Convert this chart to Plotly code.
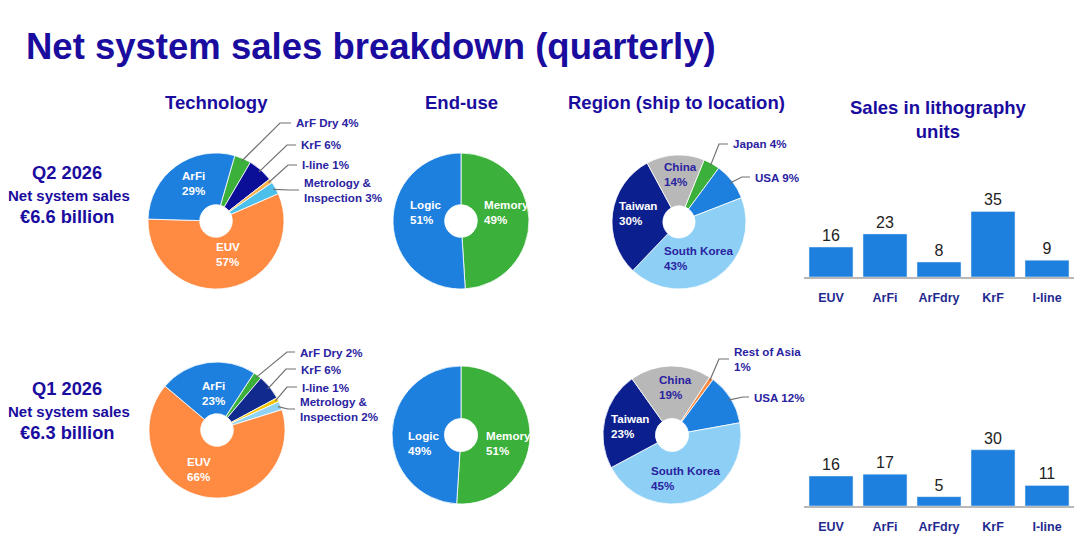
import math
import plotly.graph_objects as go

W, H = 1080, 556

# ---------------- data ----------------
tech_labels = ["ArF Dry", "KrF", "I-line", "Metrology &<br>Inspection", "EUV", "ArFi"]
tech_q2 = [4, 6, 1, 3, 57, 29]
tech_q1 = [2, 6, 1, 2, 66, 23]

enduse_labels = ["Memory", "Logic"]
enduse_q2 = [49, 51]
enduse_q1 = [51, 49]

region_labels_q2 = ["Japan", "USA", "South Korea", "Taiwan", "China"]
region_q2 = [4, 9, 43, 30, 14]
region_labels_q1 = ["Rest of Asia", "USA", "South Korea", "Taiwan", "China"]
region_q1 = [1, 12, 45, 23, 19]

units_categories = ["EUV", "ArFi", "ArFdry", "KrF", "I-line"]
units_q2 = [16, 23, 8, 35, 9]
units_q1 = [16, 17, 5, 30, 11]

quarters = ["Q2 2026", "Q1 2026"]
net_sales = ["€6.6 billion", "€6.3 billion"]

# ---------------- styles ----------------
FONT = "Liberation Sans, Arial, sans-serif"
NAVY = "#1a0c9e"
LBL = "#2a22a0"
WHITE = "#ffffff"
GREEN = "#3bb03b"
BLUE = "#1e80de"
ORANGE = "#ff8a42"

tech_colors_q2 = [GREEN, "#0b0e96", "#f7b24a", "#4cc0ea", ORANGE, BLUE]
tech_colors_q1 = [GREEN, "#102a8e", "#f5c400", "#8fd2f4", ORANGE, BLUE]
enduse_colors = [GREEN, BLUE]
region_colors_q2 = [GREEN, BLUE, "#8dcff5", "#0c1f8e", "#b8b8b8"]
region_colors_q1 = [ORANGE, BLUE, "#8dcff5", "#0c1f8e", "#b8b8b8"]


def px(x):
    return x / W


def py(y):
    return 1 - y / H


# layout of each pie: centre, radius, rotation, and label placements
# placement: ("in", left_x, centre_y, colour) or ("out", left_x, centre_y, elbow_x, sep)
pies = [
    dict(c=(216, 221), r=68, rot=16, labels=tech_labels, values=tech_q2, colors=tech_colors_q2,
         place=[("out", 294, 123, 280, " "), ("out", 299, 145, 287, " "), ("out", 300, 165, 288, " "),
                ("out", 302, 190, 290, " "), ("in", 214, 254, WHITE), ("in", 180, 183, WHITE)]),
    dict(c=(217, 430), r=68, rot=33, labels=tech_labels, values=tech_q1, colors=tech_colors_q1,
         place=[("out", 298, 352, 287, " "), ("out", 299, 369, 286, " "), ("out", 300, 387, 287, " "),
                ("out", 298, 409, 288, " "), ("in", 185, 469, WHITE), ("in", 200, 393, WHITE)]),
    dict(c=(461, 221), r=68, rot=0, labels=enduse_labels, values=enduse_q2, colors=enduse_colors,
         place=[("in", 482, 212, WHITE), ("in", 408, 212, WHITE)]),
    dict(c=(461, 435), r=69, rot=0, labels=enduse_labels, values=enduse_q1, colors=enduse_colors,
         place=[("in", 484, 443, WHITE), ("in", 406, 443, WHITE)]),
    dict(c=(679, 222), r=67, rot=22, labels=region_labels_q2, values=region_q2, colors=region_colors_q2,
         place=[("out", 731, 144, 719, " "), ("out", 753, 177, 742, " "), ("in", 662, 258, LBL),
                ("in", 617, 213, WHITE), ("in", 662, 174, LBL)]),
    dict(c=(672, 435), r=69, rot=33, labels=region_labels_q1, values=region_q1, colors=region_colors_q1,
         place=[("out", 732, 359, 719, "<br>"), ("out", 752, 397, 743, " "), ("in", 649, 478, LBL),
                ("in", 609, 426, WHITE), ("in", 657, 387, LBL)]),
]

fig = go.Figure()
annotations = []
shapes = []

for p in pies:
    cx, cy = p["c"]
    r = p["r"]
    fig.add_trace(go.Pie(
        labels=p["labels"], values=p["values"],
        marker=dict(colors=p["colors"], line=dict(color="white", width=0.8)),
        hole=0.24, sort=False, direction="clockwise", rotation=p["rot"],
        textinfo="none", hoverinfo="label+percent", showlegend=False,
        domain=dict(x=[px(cx - r), px(cx + r)], y=[py(cy + r), py(cy - r)]),
    ))
    total = sum(p["values"])
    cum = 0
    for lab, v, pl in zip(p["labels"], p["values"], p["place"]):
        mid = math.radians(p["rot"] + 360 * (cum + v / 2) / total)
        cum += v
        if pl[0] == "in":
            _, lx, ly, col = pl
            annotations.append(dict(
                x=px(lx), y=py(ly), xref="paper", yref="paper", xanchor="left", yanchor="middle",
                align="left", showarrow=False, text=f"{lab}<br>{v}%",
                font=dict(family=FONT, size=11.6, color=col, weight="bold")))
        else:
            _, lx, ly, ex, sep = pl
            ax_ = cx + r * 0.96 * math.sin(mid)
            ay_ = cy - r * 0.96 * math.cos(mid)
            shapes.append(dict(
                type="path", xref="paper", yref="paper",
                path=f"M {px(ax_)} {py(ay_)} L {px(ex)} {py(ly)} L {px(lx - 3)} {py(ly)}",
                line=dict(color="#707070", width=1.2)))
            annotations.append(dict(
                x=px(lx), y=py(ly), xref="paper", yref="paper", xanchor="left", yanchor="middle",
                align="left", showarrow=False, text=f"{lab}{sep}{v}%",
                font=dict(family=FONT, size=11.6, color=LBL, weight="bold")))

# ---------------- bar charts ----------------
bar_rows = [(units_q2, "x", "y"), (units_q1, "x2", "y2")]
for vals, xa, ya in bar_rows:
    fig.add_trace(go.Bar(
        x=units_categories, y=vals, xaxis=xa, yaxis=ya,
        marker=dict(color=BLUE), text=[str(v) for v in vals], textposition="outside",
        textfont=dict(family=FONT, size=16, color="#222222"), cliponaxis=False,
        showlegend=False, hoverinfo="x+y"))

axis_common = dict(showgrid=False, zeroline=False)
xaxis_style = dict(domain=[px(804), px(1074)], showline=True, linecolor="#b8b8b8",
                   linewidth=2, ticks="", ticklabelstandoff=8,
                   tickfont=dict(family=FONT, size=12.5, color="#1f2a8f", weight="bold"), **axis_common)
fig.update_layout(
    xaxis=dict(anchor="y", **xaxis_style),
    yaxis=dict(domain=[py(277), py(202)], anchor="x", range=[0, 40], visible=False, **axis_common),
    xaxis2=dict(anchor="y2", **xaxis_style),
    yaxis2=dict(domain=[py(506), py(431)], anchor="x2", range=[0, 40], visible=False, **axis_common),
    bargap=0.185,
)

# ---------------- titles / text ----------------
def txt(x, y, s, size, color=NAVY, xanchor="center", bold=True):
    annotations.append(dict(
        x=px(x), y=py(y), xref="paper", yref="paper", xanchor=xanchor, yanchor="middle",
        showarrow=False, text=s, align="center",
        font=dict(family=FONT, size=size, color=color, weight="bold" if bold else "normal")))

txt(24, 46, "Net system sales breakdown (quarterly)", 36.5, xanchor="left")
txt(216, 103, "Technology", 18.5)
txt(461, 103, "End-use", 18.5)
txt(676, 103, "Region (ship to location)", 18.5)
txt(938, 119, "Sales in lithography<br>units", 18.5)

for (q, s), y0 in zip(zip(quarters, net_sales), [172, 388]):
    txt(67, y0, q, 18.3)
    txt(69, y0 + 23, "Net system sales", 15)
    txt(67, y0 + 44, s, 18.3)

fig.update_layout(
    width=W, height=H, margin=dict(l=0, r=0, t=0, b=0),
    paper_bgcolor="white", plot_bgcolor="white",
    annotations=annotations, shapes=shapes,
    font=dict(family=FONT),
)

fig.write_html("out.html")
